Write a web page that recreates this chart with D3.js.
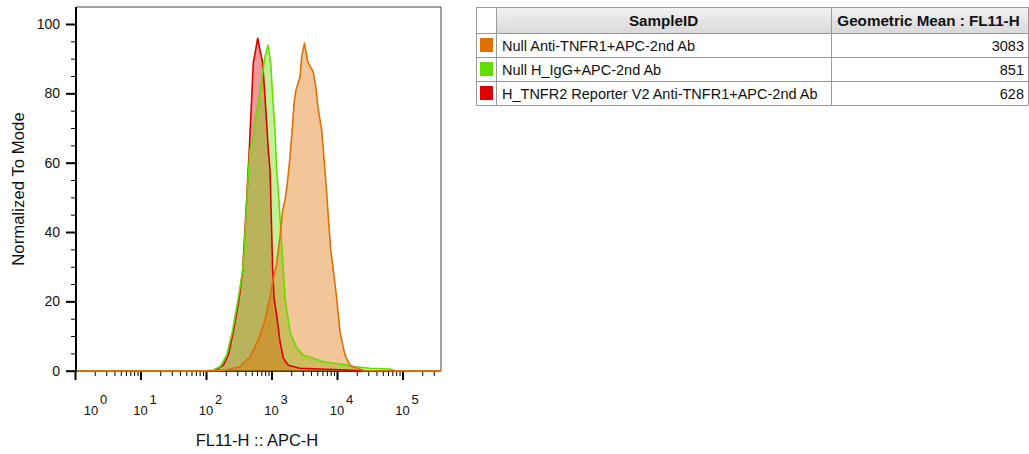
<!DOCTYPE html>
<html>
<head>
<meta charset="utf-8">
<script src="https://cdn.jsdelivr.net/npm/d3@7"></script>
<style>
  html, body { margin: 0; padding: 0; background: #fff; }
  svg { display: block; font-family: Arial, "Liberation Sans", sans-serif; }
</style>
</head>
<body>
<svg id="chart" width="1029" height="454"></svg>
<script>
// ---------------- data ----------------
const samples = ["Null Anti-TNFR1+APC-2nd Ab", "Null H_IgG+APC-2nd Ab", "H_TNFR2 Reporter V2 Anti-TNFR1+APC-2nd Ab"];
const geoMeans = [3083, 851, 628];
const seriesColors = ["#e07000", "#66dd00", "#dd0000"];
const tableHeaders = ["SampleID", "Geometric Mean : FL11-H"];

// histogram curves: [FL11-H value, % of mode]
const orangeCurve = [[1,0],[137,0],[207,0.2],[330,1.2],[470,4],[629,8.9],[796,14.6],[949,21.3],[1131,29],[1172,29.6],
  [1348,38.6],[1483,46.4],[1607,49.2],[1742,54],[1916,61.7],[2106,71.4],[2207,77.1],[2366,81],[2723,84.8],[2891,90.6],
  [3192,94.5],[3572,89.1],[4347,86.2],[4733,81.9],[5187,75.2],[5845,69.4],[6180,63.7],[6792,54],[7365,44.4],[8016,34.8],
  [8600,30.5],[9895,20.9],[11110,11.2],[13250,4.5],[15790,1.6],[20000,0.7],[26700,0],[387000,0]];
const greenCurve = [[1,0],[97,0],[129,0.2],[164,1.2],[207,4.5],[252,11.2],[311,20.9],[363,29],[384,34.8],[408,44.4],
  [433,54],[470,63.7],[528,67.5],[560,72.3],[629,77.1],[708,83.8],[796,90.6],[885,93.9],[973,88.7],[1043,79],
  [1131,69.4],[1200,57.9],[1270,52.1],[1348,44.4],[1431,36.7],[1514,29],[1607,20.9],[1916,11.2],[2424,6.5],[3058,4.5],
  [4347,3.6],[6180,2.6],[9895,2.1],[14060,1.6],[17740,1.2],[22450,1.0],[31900,0.7],[64400,0.5],[76800,0],[387000,0]];
const redCurve = [[1,0],[137,0],[184,1.6],[219,4.5],[261,11.2],[322,21],[363,29],[404,44.4],[458,63.7],[527,88.7],
  [615,95.9],[667,92.5],[734,88.7],[796,79],[894,63.7],[949,57.9],[1043,29],[1092,21],[1200,16],[1348,8.4],
  [1514,3.6],[1805,1.6],[2723,0.7],[17550,0.15],[20000,0],[387000,0]];

const xDecades = [1, 10, 100, 1000, 10000, 100000];
const xExponents = ["0", "1", "2", "3", "4", "5"];
const yMajorTicks = [0, 20, 40, 60, 80, 100];
const yMinorTicks = [5, 10, 15, 25, 30, 35, 45, 50, 55, 65, 70, 75, 85, 90, 95];
const xTitle = "FL11-H :: APC-H";
const yTitle = "Normalized To Mode";

// ---------------- layout ----------------
const svg = d3.select("#chart");
const plot = { left: 76, right: 441, top: 7, bottom: 371 };

const x = d3.scaleLog().domain([1, 387000]).range([75, 441]);
const y = d3.scaleLinear().domain([0, 100]).range([370.7, 24]);

// frame
svg.append("path")
  .attr("d", `M${plot.left},${plot.top}H${plot.right}V${plot.bottom}`)
  .attr("fill", "none").attr("stroke", "#444").attr("stroke-width", 1);

// y axis
const yAxisMajor = d3.axisLeft(y).tickValues(yMajorTicks).tickSize(10).tickFormat(d => d).tickPadding(6);
const gy = svg.append("g").attr("transform", `translate(${plot.left},0)`).call(yAxisMajor);
gy.select(".domain").remove();
gy.selectAll(".tick line").attr("stroke", "#000").attr("stroke-width", 2);
gy.selectAll(".tick text").attr("font-size", 14).attr("fill", "#111").attr("font-family", "Arial, 'Liberation Sans', sans-serif");
const yAxisMinor = d3.axisLeft(y).tickValues(yMinorTicks).tickSize(5).tickFormat("");
const gym = svg.append("g").attr("transform", `translate(${plot.left},0)`).call(yAxisMinor);
gym.select(".domain").remove();
gym.selectAll(".tick line").attr("stroke", "#000").attr("stroke-width", 1);

// x axis
const xMinor = [];
xDecades.forEach(d => { for (let k = 2; k <= 9; k++) { if (d * k <= 387000) xMinor.push(d * k); } });
const xAxisMajor = d3.axisBottom(x).tickValues(xDecades).tickSize(9).tickFormat("");
const gx = svg.append("g").attr("transform", `translate(0,${plot.bottom})`).call(xAxisMajor);
gx.select(".domain").remove();
gx.selectAll(".tick line").attr("stroke", "#000").attr("stroke-width", 2);
const xAxisMinor = d3.axisBottom(x).tickValues(xMinor).tickSize(5).tickFormat("");
const gxm = svg.append("g").attr("transform", `translate(0,${plot.bottom})`).call(xAxisMinor);
gxm.select(".domain").remove();
gxm.selectAll(".tick line").attr("stroke", "#000").attr("stroke-width", 1);
svg.append("line").attr("x1", plot.left - 1).attr("x2", plot.right).attr("y1", plot.bottom).attr("y2", plot.bottom)
  .attr("stroke", "#000").attr("stroke-width", 1.5);

// curves: drawn red, green, orange (later on top)
const drawOrder = [
  { data: redCurve, color: seriesColors[2] },
  { data: greenCurve, color: seriesColors[1] },
  { data: orangeCurve, color: seriesColors[0] }
];
const area = d3.area().x(d => x(d[0])).y0(y(0)).y1(d => y(d[1]));
const line = d3.line().x(d => x(d[0])).y(d => y(d[1]));

const gCurves = svg.append("g");
gCurves.append("defs").append("clipPath").attr("id", "clip")
  .append("rect").attr("x", plot.left).attr("y", plot.top)
  .attr("width", plot.right - plot.left).attr("height", plot.bottom - plot.top + 2);
const gc = gCurves.append("g").attr("clip-path", "url(#clip)");
drawOrder.forEach(s => {
  gc.append("path").attr("d", area(s.data)).attr("fill", s.color).attr("fill-opacity", 0.4);
});
drawOrder.forEach(s => {
  gc.append("path").attr("d", line(s.data)).attr("fill", "none").attr("stroke", s.color)
    .attr("stroke-width", 1.6).attr("stroke-linejoin", "round");
});

// left axis line
svg.append("line").attr("x1", plot.left).attr("x2", plot.left).attr("y1", plot.top).attr("y2", plot.bottom + 1)
  .attr("stroke", "#000").attr("stroke-width", 2);

// x tick labels 10^n
const gxl = svg.append("g");
xDecades.forEach((d, i) => {
  const cx = Math.max(x(d), 91);
  gxl.append("text").attr("x", cx).attr("y", 415).attr("text-anchor", "middle")
    .attr("font-size", 13).attr("fill", "#111").text("10");
  gxl.append("text").attr("x", cx + 9).attr("y", 404).attr("text-anchor", "start")
    .attr("font-size", 13).attr("fill", "#111").text(xExponents[i]);
});

// axis titles
svg.append("text").attr("x", 257).attr("y", 446).attr("text-anchor", "middle")
  .attr("font-size", 16.5).attr("fill", "#111").text(xTitle);
svg.append("text").attr("transform", "translate(24,189) rotate(-90)").attr("text-anchor", "middle")
  .attr("font-size", 16.8).attr("fill", "#111").text(yTitle);

// ---------------- table legend ----------------
const tbl = { left: 476, c1: 496, c2: 831, right: 1028, top: 7, headH: 26, rowH: 24 };
const defs = svg.append("defs");
const grad = defs.append("linearGradient").attr("id", "hdr").attr("x1", 0).attr("x2", 0).attr("y1", 0).attr("y2", 1);
grad.append("stop").attr("offset", "0%").attr("stop-color", "#f2f2f2");
grad.append("stop").attr("offset", "100%").attr("stop-color", "#d9d9d9");

const gt = svg.append("g");
gt.append("rect").attr("x", tbl.c1).attr("y", tbl.top).attr("width", tbl.right - tbl.c1).attr("height", tbl.headH)
  .attr("fill", "url(#hdr)");
const nRows = samples.length;
const tblBottom = tbl.top + tbl.headH + nRows * tbl.rowH;
const hLines = [tbl.top, tbl.top + tbl.headH];
for (let i = 1; i <= nRows; i++) hLines.push(tbl.top + tbl.headH + i * tbl.rowH);
hLines.forEach(hy => gt.append("line").attr("x1", tbl.left).attr("x2", tbl.right).attr("y1", hy + 0.5).attr("y2", hy + 0.5)
  .attr("stroke", "#9a9a9a").attr("stroke-width", 1));
[tbl.left, tbl.c1, tbl.c2, tbl.right].forEach(vx => gt.append("line").attr("x1", vx + 0.5).attr("x2", vx + 0.5)
  .attr("y1", tbl.top).attr("y2", tblBottom + 0.5).attr("stroke", "#9a9a9a").attr("stroke-width", 1));

gt.append("text").attr("x", (tbl.c1 + tbl.c2) / 2).attr("y", tbl.top + 18.5).attr("text-anchor", "middle")
  .attr("font-size", 15.2).attr("font-weight", "bold").attr("fill", "#111").text(tableHeaders[0]);
gt.append("text").attr("x", (tbl.c2 + tbl.right) / 2 - 1).attr("y", tbl.top + 18.5).attr("text-anchor", "middle")
  .attr("font-size", 15.2).attr("font-weight", "bold").attr("fill", "#111").text(tableHeaders[1]);

samples.forEach((s, i) => {
  const ry = tbl.top + tbl.headH + i * tbl.rowH;
  gt.append("rect").attr("x", tbl.left + 4).attr("y", ry + 5).attr("width", 13).attr("height", 14)
    .attr("fill", seriesColors[i]);
  gt.append("text").attr("x", tbl.c1 + 6).attr("y", ry + 17.5).attr("font-size", 14.5).attr("fill", "#111").text(s);
  gt.append("text").attr("x", tbl.right - 4).attr("y", ry + 17.5).attr("text-anchor", "end")
    .attr("font-size", 14.5).attr("fill", "#111").text(geoMeans[i]);
});
</script>
</body>
</html>
